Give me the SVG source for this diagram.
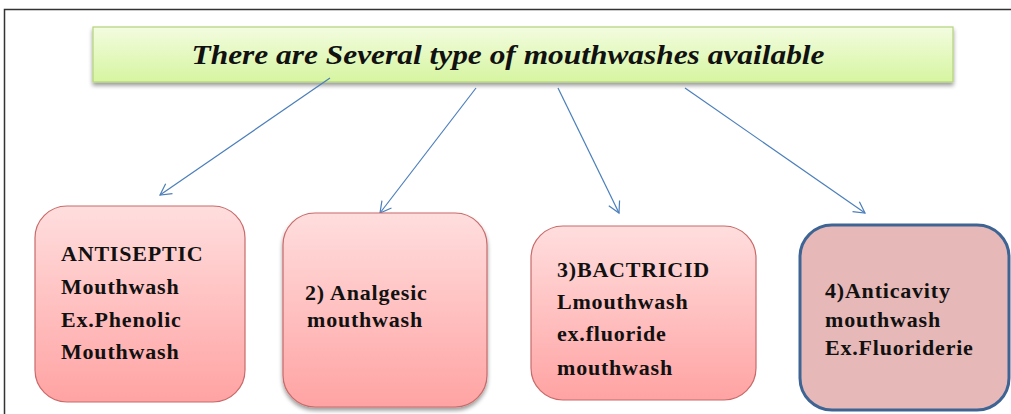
<svg xmlns="http://www.w3.org/2000/svg" width="1011" height="414" viewBox="0 0 1011 414">
<defs>
<linearGradient id="pink" x1="0" y1="0" x2="0" y2="1"><stop offset="0" stop-color="#ffdede"/><stop offset="1" stop-color="#ffa3a3"/></linearGradient>
<linearGradient id="green" x1="0" y1="0" x2="0" y2="1"><stop offset="0" stop-color="#f3fce0"/><stop offset="1" stop-color="#d6f5a0"/></linearGradient>
<marker id="ah" markerWidth="14" markerHeight="14" refX="12" refY="7" orient="auto" markerUnits="userSpaceOnUse"><path d="M1,1 L12,7 L1,13" fill="none" stroke="#4a7ebb" stroke-width="1.2"/></marker>
<filter id="sh" x="-10%" y="-10%" width="120%" height="140%"><feGaussianBlur in="SourceAlpha" stdDeviation="2"/><feOffset dx="0" dy="3"/><feComponentTransfer><feFuncA type="linear" slope="0.4"/></feComponentTransfer><feMerge><feMergeNode/><feMergeNode in="SourceGraphic"/></feMerge></filter>
</defs>
<style>
.t{font-family:"Liberation Serif",serif;font-weight:bold;font-size:22px;letter-spacing:0.8px;fill:#111}
.pk{fill:url(#pink);stroke:#c96a6a;stroke-width:1.2}
.ln{stroke:#4a7ebb;stroke-width:1.2;fill:none}
</style>
<rect x="0" y="0" width="1011" height="414" fill="#fff"/>
<path d="M4.5,420 V9.5 H1020" fill="none" stroke="#333" stroke-width="1.5"/>
<g id="title">
<rect x="93" y="27" width="860" height="55" fill="url(#green)" stroke="#b5d27e" stroke-width="1.2" filter="url(#sh)"/>
<text x="508" y="64" text-anchor="middle" font-family="Liberation Serif,serif" font-weight="bold" font-style="italic" font-size="28" fill="#111" textLength="633" lengthAdjust="spacingAndGlyphs">There  are Several type of mouthwashes available</text>
</g>
<g id="connectors">
<line class="ln" x1="330" y1="78" x2="160" y2="195" marker-end="url(#ah)"/>
<line class="ln" x1="476" y1="88" x2="380" y2="213" marker-end="url(#ah)"/>
<line class="ln" x1="558" y1="88" x2="619" y2="213" marker-end="url(#ah)"/>
<line class="ln" x1="685" y1="88" x2="865" y2="213" marker-end="url(#ah)"/>
</g>
<g id="n1">
<rect class="pk" x="35" y="206" width="210" height="196" rx="32"/>
<text class="t" x="61" y="261">ANTISEPTIC</text>
<text class="t" x="61" y="294">Mouthwash</text>
<text class="t" x="61" y="327">Ex.Phenolic</text>
<text class="t" x="61" y="359">Mouthwash</text>
</g>
<g id="n2">
<rect class="pk" x="283" y="213" width="204" height="194" rx="32" filter="url(#sh)"/>
<text class="t" x="305" y="300">2) Analgesic</text>
<text class="t" x="307" y="327">mouthwash</text>
</g>
<g id="n3">
<rect class="pk" x="531" y="226" width="225" height="174" rx="32"/>
<text class="t" x="557" y="277">3)BACTRICID</text>
<text class="t" x="557" y="309">Lmouthwash</text>
<text class="t" x="557" y="341">ex.fluoride</text>
<text class="t" x="557" y="375">mouthwash</text>
</g>
<g id="n4">
<rect x="800" y="225" width="209" height="185" rx="32" fill="#e6b8b7" stroke="#3e6494" stroke-width="3"/>
<text class="t" x="825" y="298">4)Anticavity</text>
<text class="t" x="825" y="327">mouthwash</text>
<text class="t" x="825" y="355">Ex.Fluoriderie</text>
</g>
</svg>
